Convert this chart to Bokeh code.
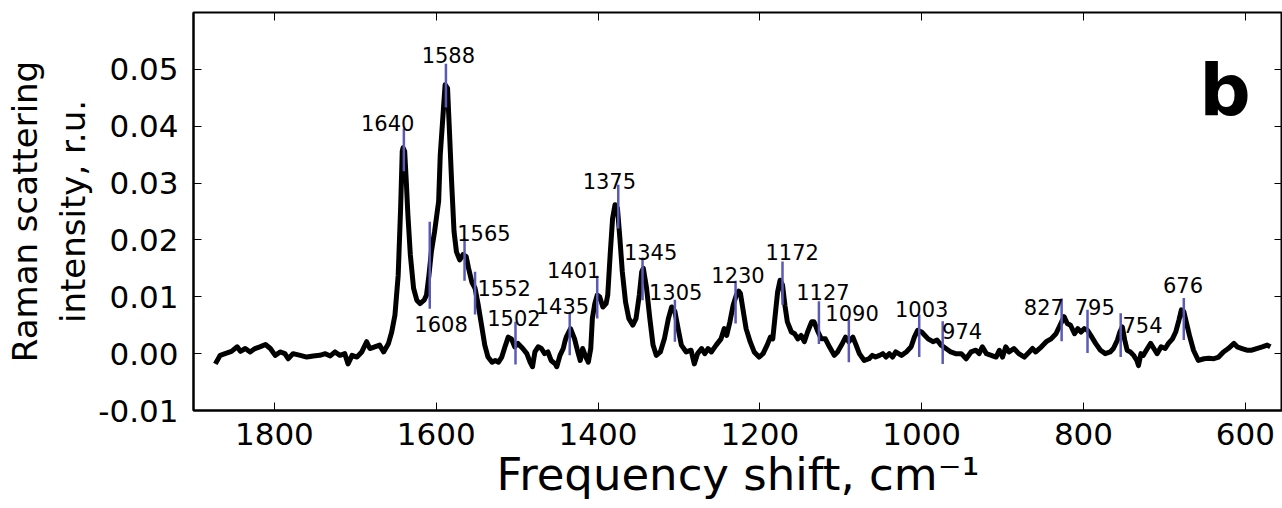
from bokeh.plotting import figure
from bokeh.models import Range1d, LinearAxis, FixedTicker, ColumnDataSource, Label, NumeralTickFormatter
from bokeh.core.properties import value
from bokeh.embed import file_html
from bokeh.resources import INLINE

# Spectrum (frequency shift in cm^-1, intensity in r.u.)
wavenumber = [1873, 1867, 1861, 1853, 1846, 1842, 1836, 1830, 1824, 1818, 1811, 1805, 1799, 1793, 1787,
              1783, 1777, 1768, 1760, 1752, 1744, 1737, 1731, 1725, 1719, 1713, 1709, 1704, 1698, 1692,
              1686, 1682, 1676, 1670, 1665, 1659, 1655, 1651, 1647, 1644, 1642, 1641, 1639, 1637, 1635,
              1632, 1628, 1624, 1620, 1615, 1612, 1609, 1606, 1602, 1597, 1595, 1591, 1589, 1586, 1584,
              1581, 1578, 1575, 1571, 1567, 1563, 1560, 1556, 1552, 1548, 1544, 1540, 1536, 1531, 1527,
              1523, 1519, 1515, 1511, 1507, 1503, 1499, 1493, 1488, 1484, 1481, 1478, 1474, 1470, 1466,
              1462, 1458, 1453, 1451, 1447, 1443, 1441, 1439, 1434, 1429, 1425, 1422, 1419, 1415, 1412,
              1409, 1407, 1404, 1401, 1398, 1394, 1390, 1388, 1385, 1382, 1379, 1376, 1373, 1370, 1366,
              1362, 1357, 1353, 1349, 1346, 1344, 1340, 1336, 1332, 1328, 1323, 1318, 1313, 1309, 1305,
              1301, 1297, 1291, 1285, 1281, 1277, 1272, 1268, 1264, 1260, 1254, 1248, 1244, 1241, 1237,
              1233, 1229, 1226, 1224, 1221, 1217, 1212, 1207, 1201, 1196, 1191, 1187, 1184, 1181, 1178,
              1175, 1172, 1169, 1166, 1161, 1157, 1153, 1149, 1145, 1141, 1136, 1133, 1128, 1124, 1119,
              1114, 1108, 1104, 1098, 1094, 1090, 1085, 1081, 1077, 1071, 1065, 1061, 1057, 1052, 1048,
              1044, 1040, 1036, 1032, 1025, 1019, 1013, 1009, 1005, 1000, 996, 992, 986, 981, 976,
              970, 964, 958, 951, 945, 939, 933, 929, 925, 920, 914, 908, 904, 900, 896,
              892, 886, 880, 873, 867, 863, 859, 852, 846, 840, 834, 829, 824, 820, 816,
              811, 807, 803, 799, 795, 791, 785, 779, 773, 767, 763, 758, 755, 752, 749,
              746, 742, 738, 734, 732, 729, 726, 721, 717, 713, 709, 704, 699, 695, 690,
              686, 682, 679, 676, 673, 669, 664, 658, 651, 645, 639, 633, 627, 621, 614,
              610, 604, 598, 592, 586, 579, 573, 569]
intensity = [-0.0018, -0.0003, 0.0000, 0.0004, 0.0012, 0.0004, 0.0009, 0.0003, 0.0009, 0.0012, 0.0016, 0.0009, -0.0003, 0.0003, 0.0000,
             -0.0009, 0.0000, -0.0003, -0.0006, -0.0004, -0.0003, 0.0000, -0.0004, 0.0003, -0.0003, 0.0000, -0.0018, -0.0003, -0.0006, 0.0003,
             0.0021, 0.0009, 0.0012, 0.0015, 0.0003, 0.0018, 0.0038, 0.0068, 0.0138, 0.0256, 0.0356, 0.0362, 0.0356, 0.0303, 0.0244,
             0.0174, 0.0115, 0.0094, 0.0088, 0.0094, 0.0103, 0.0138, 0.0179, 0.0215, 0.0268, 0.0350, 0.0432, 0.0473, 0.0467, 0.0403,
             0.0303, 0.0215, 0.0179, 0.0165, 0.0174, 0.0171, 0.0150, 0.0126, 0.0115, 0.0085, 0.0050, 0.0015, -0.0006, -0.0015, -0.0012,
             -0.0015, -0.0006, 0.0012, 0.0029, 0.0026, 0.0012, 0.0018, 0.0009, 0.0000, -0.0015, -0.0023, 0.0003, 0.0012, 0.0009, 0.0000,
             0.0003, -0.0012, -0.0018, -0.0023, -0.0003, 0.0009, 0.0021, 0.0030, 0.0044, 0.0026, 0.0003, -0.0012, 0.0009, -0.0006, -0.0015,
             0.0009, 0.0062, 0.0088, 0.0103, 0.0100, 0.0082, 0.0088, 0.0103, 0.0174, 0.0238, 0.0262, 0.0256, 0.0203, 0.0144, 0.0091,
             0.0062, 0.0050, 0.0062, 0.0103, 0.0144, 0.0150, 0.0115, 0.0062, 0.0015, -0.0003, 0.0003, 0.0026, 0.0062, 0.0082, 0.0074,
             0.0044, 0.0015, 0.0003, 0.0006, -0.0018, 0.0000, 0.0009, 0.0000, 0.0009, 0.0003, 0.0015, 0.0026, 0.0044, 0.0032, 0.0056,
             0.0085, 0.0103, 0.0110, 0.0106, 0.0079, 0.0044, 0.0021, 0.0003, -0.0006, 0.0000, 0.0015, 0.0029, 0.0026, 0.0068, 0.0109,
             0.0129, 0.0121, 0.0085, 0.0056, 0.0038, 0.0035, 0.0026, 0.0032, 0.0021, 0.0038, 0.0056, 0.0056, 0.0038, 0.0026, 0.0026,
             0.0012, -0.0003, 0.0003, 0.0018, 0.0029, 0.0021, 0.0029, 0.0015, 0.0000, -0.0012, -0.0009, -0.0003, -0.0006, -0.0003, 0.0000,
             -0.0006, 0.0000, -0.0006, 0.0003, -0.0003, 0.0003, 0.0012, 0.0029, 0.0041, 0.0038, 0.0032, 0.0026, 0.0021, 0.0024, 0.0015,
             0.0009, 0.0003, 0.0000, 0.0000, -0.0009, 0.0003, 0.0006, 0.0000, 0.0012, 0.0000, -0.0003, -0.0006, 0.0006, -0.0006, 0.0012,
             0.0003, 0.0009, 0.0000, -0.0006, 0.0003, 0.0009, 0.0003, 0.0012, 0.0021, 0.0026, 0.0035, 0.0050, 0.0065, 0.0053, 0.0050,
             0.0035, 0.0044, 0.0038, 0.0044, 0.0041, 0.0032, 0.0018, 0.0006, 0.0000, 0.0003, 0.0009, 0.0024, 0.0038, 0.0047, 0.0024,
             0.0006, 0.0003, -0.0003, -0.0012, -0.0021, 0.0000, -0.0003, 0.0009, 0.0018, 0.0009, 0.0000, 0.0012, 0.0009, 0.0018, 0.0026,
             0.0038, 0.0059, 0.0077, 0.0074, 0.0056, 0.0032, 0.0006, -0.0012, -0.0009, -0.0008, -0.0009, -0.0006, 0.0003, 0.0009, 0.0018,
             0.0012, 0.0009, 0.0006, 0.0006, 0.0009, 0.0012, 0.0015, 0.0012]

# Assigned bands: position, marker extent, label anchor
peak_labels = [1640, 1588, 1608, 1565, 1552, 1502, 1435, 1401, 1375, 1345, 1305,
               1230, 1172, 1127, 1090, 1003, 974, 827, 795, 754, 676]
marker_lo = [0.0321, 0.0433, 0.0079, 0.0128, 0.0069, -0.0019, -0.0003, 0.0062, 0.0220, 0.0094, 0.0021,
             0.0053, 0.0086, 0.0017, -0.0015, -0.0006, -0.0018, 0.0022, 0.0001, -0.0006, 0.0024]
marker_hi = [0.0396, 0.0510, 0.0232, 0.0203, 0.0144, 0.0056, 0.0071, 0.0137, 0.0297, 0.0169, 0.0095,
             0.0128, 0.0162, 0.0092, 0.0060, 0.0069, 0.0057, 0.0097, 0.0077, 0.0071, 0.0098]
label_x = [1660, 1585, 1594, 1541, 1516, 1504, 1444, 1430, 1386, 1335, 1304,
           1227, 1160, 1122, 1086, 1000, 950, 849, 786, 727, 677]
label_y = [0.0405, 0.0525, 0.0052, 0.0213, 0.0115, 0.0063, 0.0084, 0.0147, 0.0304, 0.0178, 0.0109,
           0.0138, 0.0179, 0.0108, 0.0071, 0.0079, 0.0040, 0.0082, 0.0082, 0.0051, 0.0121]

x_ticks = [1800, 1600, 1400, 1200, 1000, 800, 600]
y_ticks = [-0.01, 0.0, 0.01, 0.02, 0.03, 0.04, 0.05]

FONT = "DejaVu Sans"

p = figure(width=1282, height=508, output_backend="svg", toolbar_location=None,
           x_range=Range1d(1900, 554), y_range=Range1d(-0.01, 0.06),
           min_border_left=193, min_border_right=0, min_border_top=12, min_border_bottom=98,
           background_fill_color="white", border_fill_color="white")
p.grid.visible = False
p.outline_line_color = "black"
p.outline_line_width = 2

p.line(wavenumber, intensity, line_color="black", line_width=5, line_join="round")

p.segment(x0=peak_labels, y0=marker_lo, x1=peak_labels, y1=marker_hi,
          line_color="#5b5bb5", line_width=2.5)

src = ColumnDataSource(dict(x=label_x, y=label_y, t=[str(v) for v in peak_labels]))
p.text(x="x", y="y", text="t", source=src, text_font=value(FONT), text_font_size="21px",
       text_align="center", text_baseline="alphabetic", text_color="black")

p.add_layout(Label(x=625, y=0.0463, text="b", text_font=FONT, text_font_size="72px",
                   text_font_style="bold", text_align="center", text_baseline="alphabetic",
                   text_color="black"))

xb = p.xaxis[0]
yl = p.yaxis[0]
xb.ticker = FixedTicker(ticks=x_ticks)
yl.ticker = FixedTicker(ticks=y_ticks)
yl.formatter = NumeralTickFormatter(format="0.00")
xb.axis_label = "Frequency shift, cm\u207b\u00b9"
yl.axis_label = "Raman scattering\nintensity, r.u."

for ax in (xb, yl):
    ax.major_tick_in = 8
    ax.major_tick_out = 0
    ax.minor_tick_in = 0
    ax.minor_tick_out = 0
    ax.axis_line_color = "black"
    ax.axis_line_width = 2
    ax.major_tick_line_width = 1
    ax.major_label_text_font = FONT
    ax.major_label_text_font_size = "31px"
    ax.major_label_text_color = "black"
    ax.axis_label_text_font = FONT
    ax.axis_label_text_font_style = "normal"
    ax.axis_label_text_color = "black"

xb.major_label_standoff = 12
xb.axis_label_standoff = 0
xb.axis_label_text_font_size = "45px"
yl.major_label_standoff = 15
yl.axis_label_standoff = 2
yl.axis_label_text_font_size = "34px"

# Mirror ticks on the top and right edges, without labels
top = LinearAxis(ticker=FixedTicker(ticks=x_ticks),
                 major_label_overrides={t: "" for t in x_ticks})
right = LinearAxis(ticker=FixedTicker(ticks=y_ticks),
                   major_label_overrides={t: "" for t in y_ticks})
for ax in (top, right):
    ax.major_tick_in = 8
    ax.major_tick_out = 0
    ax.minor_tick_in = 0
    ax.minor_tick_out = 0
    ax.major_label_text_color = None
    ax.major_label_text_font_size = "1px"
    ax.major_label_standoff = 0
    ax.axis_line_color = None
    ax.major_tick_line_color = "black"
p.add_layout(top, "above")
p.add_layout(right, "right")

open("out.html", "w").write(file_html(p, INLINE))
